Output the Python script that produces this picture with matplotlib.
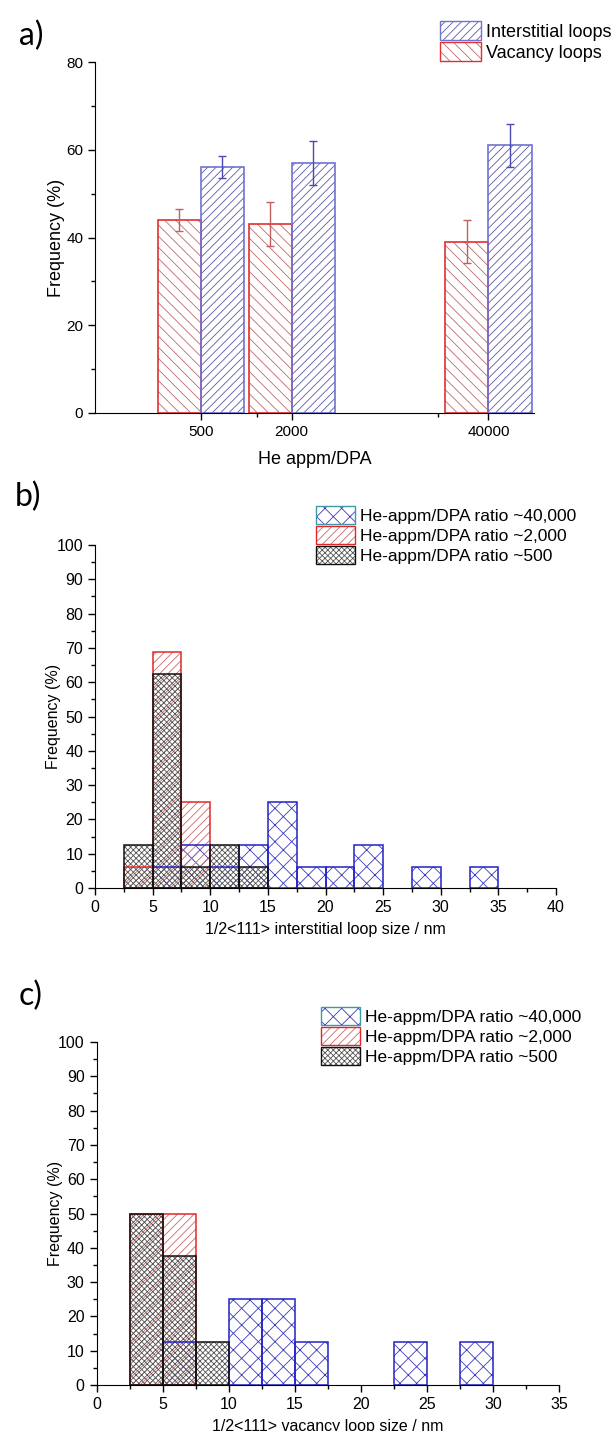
import numpy as np
import matplotlib
matplotlib.use('Agg')
import matplotlib.pyplot as plt
from matplotlib.patches import Patch
from matplotlib.legend_handler import HandlerTuple
from matplotlib.ticker import FixedLocator, MultipleLocator, NullFormatter

plt.rcParams['font.family'] = ['Liberation Sans', 'DejaVu Sans']
plt.rcParams['hatch.linewidth'] = 0.6

# ---- panel a: loop type fraction vs He/DPA ratio
ratio = [500, 2000, 40000]
vac = [44, 43, 39]
vac_err = [2.5, 5, 4.9]
inter = [56, 57, 61]
inter_err = [2.5, 5, 4.9]

# ---- panels b, c: size histograms, bins of 2.5 nm (left edges)
bin_left = [2.5, 5, 7.5, 10, 12.5, 15, 17.5, 20, 22.5, 25, 27.5, 30, 32.5]
bin_w = 2.5

b_40000 = [0, 6.25, 12.5, 6.25, 12.5, 25, 6.25, 6.25, 12.5, 0, 6.25, 0, 6.25]
b_2000 = [6.25, 68.75, 25, 0, 0, 0, 0, 0, 0, 0, 0, 0, 0]
b_500 = [12.5, 62.5, 6.25, 12.5, 6.25, 0, 0, 0, 0, 0, 0, 0, 0]

c_40000 = [0, 12.5, 0, 25, 25, 12.5, 0, 0, 12.5, 0, 12.5, 0, 0]
c_2000 = [50, 50, 0, 0, 0, 0, 0, 0, 0, 0, 0, 0, 0]
c_500 = [50, 37.5, 12.5, 0, 0, 0, 0, 0, 0, 0, 0, 0, 0]

series_names = ['He-appm/DPA ratio ~40,000', 'He-appm/DPA ratio ~2,000', 'He-appm/DPA ratio ~500']
# (outline, hatch colour, hatch)
styles = [('#2222c8', '#3a3ac0', 'xx'),
          ('#e02828', '#c86a6a', '////'),
          ('#111111', '#555555', 'xxxxxx')]

W, H = 613, 1431
fig = plt.figure(figsize=(W / 100, H / 100), dpi=100)


def px_axes(l, t, r, b):
    return fig.add_axes([l / W, 1 - b / H, (r - l) / W, (b - t) / H])


def style_axes(ax, fs):
    ax.spines['right'].set_visible(False)
    ax.spines['top'].set_visible(False)
    ax.tick_params(which='both', direction='out', width=1, labelsize=fs)
    ax.tick_params(which='major', length=5)
    ax.tick_params(which='minor', length=3)


def legend_handle(edge, hcol, hatch, lw=1.0):
    return (Patch(facecolor='none', edgecolor=hcol, linewidth=0, hatch=hatch),
            Patch(fill=False, edgecolor=edge, linewidth=lw))


# ================= a)
ax = px_axes(95, 62, 534, 413)
style_axes(ax, 11)
ax.set_xscale('log')
f = 1.93
x = np.array(ratio, dtype=float)
vac_c, vac_h, vac_hatch = '#e03030', '#c06a6a', '\\\\\\'
int_c, int_h, int_hatch = '#7272d2', '#5a5aa8', '////'

ax.bar(x / f, vac, width=x - x / f, align='edge', facecolor='none',
       edgecolor=vac_h, linewidth=0, hatch=vac_hatch)
ax.bar(x / f, vac, width=x - x / f, align='edge', fill=False,
       edgecolor=vac_c, linewidth=1.2)
ax.bar(x, inter, width=x * f - x, align='edge', facecolor='none',
       edgecolor=int_h, linewidth=0, hatch=int_hatch)
ax.bar(x, inter, width=x * f - x, align='edge', fill=False,
       edgecolor=int_c, linewidth=1.2)
ax.errorbar(x / np.sqrt(f), vac, yerr=vac_err, fmt='none', ecolor='#c06060',
            elinewidth=1, capsize=3, capthick=1)
ax.errorbar(x * np.sqrt(f), inter, yerr=inter_err, fmt='none', ecolor='#4a4ab0',
            elinewidth=1, capsize=3, capthick=1)

ax.set_xlim(100, 80000)
ax.set_ylim(0, 80)
ax.xaxis.set_major_locator(FixedLocator(ratio))
ax.set_xticklabels([str(r) for r in ratio])
ax.xaxis.set_minor_locator(FixedLocator([1170, 18500]))
ax.xaxis.set_minor_formatter(NullFormatter())
ax.yaxis.set_major_locator(MultipleLocator(20))
ax.yaxis.set_minor_locator(MultipleLocator(10))
ax.set_xlabel('He appm/DPA', fontsize=13, labelpad=9)
ax.set_ylabel('Frequency (%)', fontsize=13, labelpad=1)

fig.legend([legend_handle(int_c, int_h, int_hatch), legend_handle(vac_c, vac_h, vac_hatch)],
           ['Interstitial loops', 'Vacancy loops'],
           handler_map={tuple: HandlerTuple(ndivide=1, pad=0)},
           loc='upper left', bbox_to_anchor=(440 / W, 1 - 21 / H), frameon=False,
           fontsize=13, borderpad=0, borderaxespad=0, handlelength=2.25,
           handleheight=1.25, handletextpad=0.3, labelspacing=0.08)
fig.text(19 / W, 1 - 36 / H, 'a)', fontsize=23, family='Lato', va='center', ha='left')


# ================= b), c)
def hist_panel(box, data, xmax, xlabel, leg_xy, letter, letter_xy):
    ax = px_axes(*box)
    style_axes(ax, 11.5)
    xl = np.array(bin_left)
    for (edge, hcol, hatch), h in zip(styles, data):
        h = np.array(h)
        m = h > 0
        ax.bar(xl[m], h[m], width=bin_w, align='edge', facecolor='none',
               edgecolor=hcol, linewidth=0, hatch=hatch)
    for (edge, hcol, hatch), h in zip(styles, data):
        h = np.array(h)
        m = h > 0
        ax.bar(xl[m], h[m], width=bin_w, align='edge', fill=False,
               edgecolor=edge, linewidth=1.1)
    ax.set_xlim(0, xmax)
    ax.set_ylim(0, 100)
    ax.xaxis.set_major_locator(MultipleLocator(5))
    ax.xaxis.set_minor_locator(MultipleLocator(2.5))
    ax.yaxis.set_major_locator(MultipleLocator(10))
    ax.yaxis.set_minor_locator(MultipleLocator(5))
    ax.set_xlabel(xlabel, fontsize=11.5, labelpad=5)
    ax.set_ylabel('Frequency (%)', fontsize=11.5, labelpad=-3.5)
    handles = [legend_handle('#3a9aa8', styles[0][1], styles[0][2]),
               legend_handle(*styles[1]),
               legend_handle(*styles[2])]
    fig.legend(handles, series_names,
               handler_map={tuple: HandlerTuple(ndivide=1, pad=0)},
               loc='upper left', bbox_to_anchor=leg_xy, frameon=False,
               fontsize=12.5, borderpad=0, borderaxespad=0, handlelength=2.25,
               handleheight=1.2, handletextpad=0.3, labelspacing=0.12)
    fig.text(letter_xy[0], letter_xy[1], letter, fontsize=23, family='Lato',
             va='center', ha='left')


hist_panel((95, 545, 556, 888), [b_40000, b_2000, b_500], 40,
           '1/2<111> interstitial loop size / nm',
           (316 / W, 1 - 506 / H), 'b)', (15 / W, 1 - 497 / H))
hist_panel((96.5, 1042, 559, 1385), [c_40000, c_2000, c_500], 35,
           '1/2<111> vacancy loop size / nm',
           (321 / W, 1 - 1007 / H), 'c)', (19 / W, 1 - 996 / H))

fig.savefig('out.png', dpi=100)
